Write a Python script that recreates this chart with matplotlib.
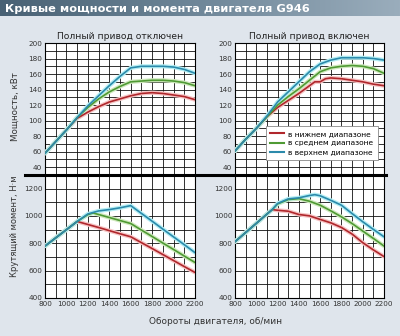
import matplotlib
matplotlib.use("Agg")
import matplotlib.pyplot as plt
import numpy as np
from matplotlib.colors import LinearSegmentedColormap
from matplotlib.lines import Line2D
from matplotlib import font_manager

# данные
title = "Кривые мощности и момента двигателя G946"
sub_off = "Полный привод отключен"
sub_on = "Полный привод включен"
series_names = ["в нижнем диапазоне", "в среднем диапазоне", "в верхнем диапазоне"]

rpm = [800, 900, 1000, 1100, 1200, 1300, 1400, 1500, 1600, 1700, 1800, 1900, 2000, 2100, 2200]

# мощность, кВт, привод отключен
p_off_low = [58, 73, 88, 103, 111, 118, 124, 128, 132, 135, 136, 135, 133, 131, 127]
p_off_mid = [58, 73, 88, 104, 117, 128, 137, 144, 150, 151, 152, 152, 151, 149, 145]
p_off_high = [58, 73, 88, 104, 119, 132, 145, 157, 168, 170, 170, 170, 169, 166, 161]

# мощность, кВт, привод включен
rpm_on_low = [800, 900, 1000, 1100, 1200, 1300, 1400, 1500, 1550, 1600, 1650, 1700, 1800, 1900, 2000, 2100, 2200]
p_on_low = [61, 76, 90, 105, 117, 126, 135, 145, 150, 150, 154, 155, 154, 152, 150, 147, 145]
p_on_mid = [61, 76, 90, 105, 120, 131, 141, 152, 163, 168, 170, 171, 170, 167, 161]
p_on_high = [61, 76, 90, 106, 124, 137, 150, 163, 173, 178, 181, 181, 181, 180, 178]

# момент, Н·м, привод отключен
t_off_low = [780, 840, 900, 960, 938, 916, 893, 870, 848, 805, 762, 718, 674, 630, 587]
rpm_t_off_mid = [800, 900, 1000, 1100, 1200, 1250, 1300, 1400, 1500, 1600, 1700, 1800, 1900, 2000, 2100, 2200]
t_off_mid = [780, 840, 900, 960, 1010, 1022, 1011, 989, 967, 945, 897, 850, 802, 755, 707, 660]
t_off_high = [780, 840, 900, 960, 1015, 1037, 1047, 1060, 1076, 1019, 962, 904, 847, 790, 732]

# момент, Н·м, привод включен
rpm_t_on = [800, 900, 1000, 1100, 1150, 1200, 1300, 1400, 1500, 1600, 1700, 1800, 1900, 2000, 2100, 2200]
t_on_low = [812, 879, 946, 1014, 1047, 1042, 1035, 1011, 1001, 975, 950, 916, 868, 805, 752, 703]
t_on_mid = [812, 879, 946, 1014, 1047, 1088, 1120, 1127, 1108, 1079, 1038, 994, 945, 890, 836, 780]
rpm_t_on_high = [800, 900, 1000, 1100, 1150, 1200, 1300, 1400, 1500, 1550, 1600, 1700, 1800, 1900, 2000, 2100, 2200]
t_on_high = [812, 879, 946, 1014, 1047, 1092, 1125, 1133, 1150, 1156, 1148, 1115, 1079, 1018, 958, 902, 848]

colors = ["#b0272c", "#4f9a34", "#2b8aab"]
glows = ["#f6c4c4", "#cfe9bd", "#b4eef4"]
bg = "#dfe5ec"

# узкий шрифт для подписей делений, если он есть
names = {f.name for f in font_manager.fontManager.ttflist}
narrow = "Liberation Sans Narrow" if "Liberation Sans Narrow" in names else "DejaVu Sans"
tick_size = 6.4 if narrow != "DejaVu Sans" else 5.2

fig = plt.figure(figsize=(4, 3.36), dpi=100, facecolor=bg)
W, H = 400.0, 336.0


def ax_at(x0, y0, x1, y1):
    return fig.add_axes([x0 / W, 1 - y1 / H, (x1 - x0) / W, (y1 - y0) / H])


# полоса заголовка
tax = ax_at(0, 0, 400, 16)
cmap = LinearSegmentedColormap.from_list("bar", ["#486174", "#6f8799", "#9aadbc"])
tax.imshow(np.linspace(0, 1, 256).reshape(1, -1), aspect="auto", cmap=cmap,
           extent=[0, 1, 0, 1])
tax.set_axis_off()
tax.text(0.012, 0.45, title, color="white", fontsize=8.2, fontweight="bold",
         va="center", ha="left", transform=tax.transAxes)

ax_pl = ax_at(45, 43, 195, 175)
ax_pr = ax_at(235, 43, 384, 175)
ax_tl = ax_at(45, 175, 195, 298)
ax_tr = ax_at(235, 175, 384, 298)


def draw(ax, xs, ys):
    for x, y, c, g in zip(xs, ys, colors, glows):
        ax.plot(x, y, color=g, lw=3.0, solid_capstyle="round", zorder=3)
        ax.plot(x, y, color=c, lw=1.2, zorder=4)


draw(ax_pl, [rpm, rpm, rpm], [p_off_low, p_off_mid, p_off_high])
draw(ax_pr, [rpm_on_low, rpm, rpm], [p_on_low, p_on_mid, p_on_high])
draw(ax_tl, [rpm, rpm_t_off_mid, rpm], [t_off_low, t_off_mid, t_off_high])
draw(ax_tr, [rpm_t_on, rpm_t_on, rpm_t_on_high], [t_on_low, t_on_mid, t_on_high])

xt = list(range(800, 2201, 100))
xl = [str(v) if v % 200 == 0 else "" for v in xt]

for ax in [ax_pl, ax_pr]:
    ax.set_ylim(30, 200)
    yt = list(range(30, 201, 10))
    ax.set_yticks(yt, [str(v) if v % 20 == 0 else "" for v in yt])
    ax.set_xticks(xt, [""] * len(xt))

for ax in [ax_tl, ax_tr]:
    ax.set_ylim(400, 1300)
    yt = list(range(400, 1301, 100))
    ax.set_yticks(yt, [str(v) if v % 200 == 0 else "" for v in yt])
    ax.set_xticks(xt, xl)

for ax in [ax_pl, ax_pr, ax_tl, ax_tr]:
    ax.set_xlim(800, 2200)
    ax.set_facecolor("white")
    ax.grid(True, color="#111111", lw=0.6, zorder=1)
    ax.set_axisbelow(True)
    ax.tick_params(length=0, pad=2, labelsize=tick_size, labelcolor="#333333")
    for lab in ax.get_xticklabels() + ax.get_yticklabels():
        lab.set_fontfamily(narrow)
    for s in ax.spines.values():
        s.set_color("black")
        s.set_linewidth(0.8)

ax_pl.set_title(sub_off, fontsize=6.6, color="#222222", pad=3)
ax_pr.set_title(sub_on, fontsize=6.6, color="#222222", pad=3)

fig.text(15 / W, 1 - 107 / H, "Мощность, кВт", rotation=90, ha="center", va="center",
         fontsize=6.3, color="#333333")
fig.text(15 / W, 1 - 226 / H, "Крутящий момент, Н·м", rotation=90, ha="center", va="center",
         fontsize=6.0, color="#333333")
fig.text(216 / W, 1 - 322 / H, "Обороты двигателя, об/мин", ha="center", va="center",
         fontsize=6.5, color="#333333")

leg = ax_pr.legend([Line2D([], [], color=c, lw=1.5) for c in colors], series_names,
                   loc="lower right", bbox_to_anchor=(0.985, 0.085), fontsize=5.4,
                   frameon=True, fancybox=False, handlelength=1.8, handletextpad=0.6,
                   borderpad=0.6, labelspacing=0.4, framealpha=1)
leg.get_frame().set_edgecolor("#888888")
leg.get_frame().set_linewidth(0.6)
leg.set_zorder(10)

# толстая разделительная линия
fig.add_artist(Line2D([25 / W, 386 / W], [1 - 175 / H, 1 - 175 / H], color="black", lw=2.2))

fig.savefig("out.png", dpi=100, facecolor=bg)
